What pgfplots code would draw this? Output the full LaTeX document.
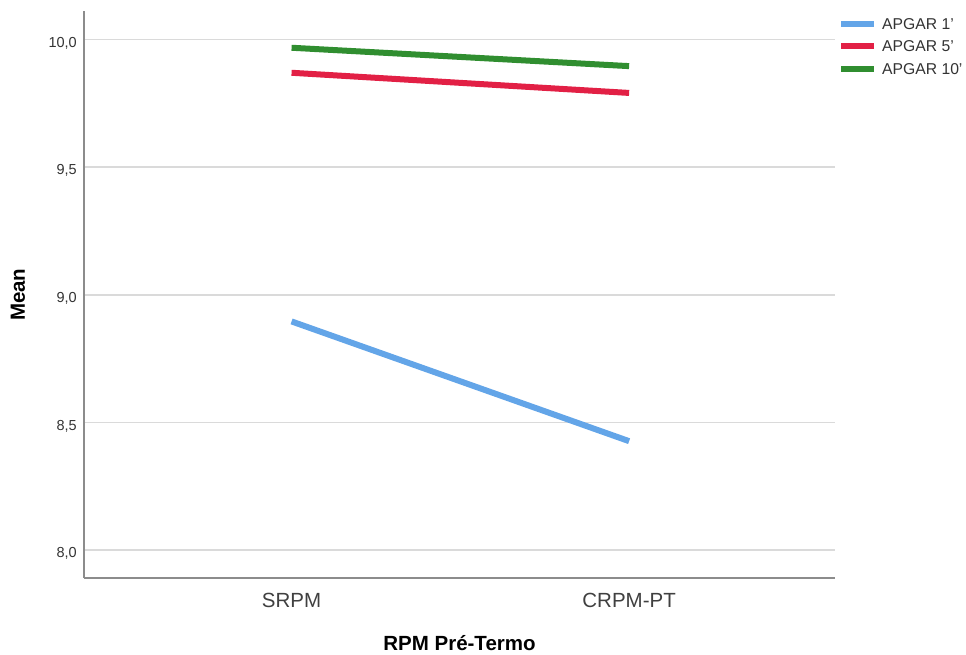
\documentclass[border=0pt]{standalone}
\usepackage{pgfplots}
\pgfplotsset{compat=1.18}
\usepackage{fontspec}
\setmainfont{Liberation Sans}
\definecolor{cblue}{RGB}{99,165,232}
\definecolor{cred}{RGB}{226,32,69}
\definecolor{cgreen}{RGB}{48,142,48}
\definecolor{axgray}{RGB}{140,140,140}
\definecolor{grgray}{RGB}{218,218,218}
\begin{document}
\begin{tikzpicture}
\useasboundingbox (-84pt,-76pt) rectangle (882pt,578pt);
\begin{axis}[
  at={(0pt,0pt)}, anchor=south west,
  scale only axis, width=751pt, height=566.5pt,
  xmin=-0.615, xmax=1.610,
  ymin=7.891, ymax=10.110,
  axis x line*=bottom, axis y line*=left,
  axis line style={draw=axgray, line width=2pt, -},
  xtick={0,1}, xticklabels={SRPM,CRPM-PT},
  ytick={8,8.5,9,9.5,10},
  major tick length=0pt,
  ymajorgrids, grid style={draw=grgray, line width=1.6pt},
  /pgf/number format/assume math mode=true,
  yticklabel style={/pgf/number format/.cd, use comma, fixed, fixed zerofill, precision=1, /tikz/.cd,
    font=\fontsize{14.5}{16}\selectfont, text=black!80, inner sep=0pt, anchor=base east, xshift=-7pt, yshift=-7.5pt},
  xticklabel style={font=\fontsize{20.5}{24}\selectfont, text=black!75, inner sep=0pt, anchor=base, yshift=-29pt},
  xlabel={\textbf{RPM Pré-Termo}},
  ylabel={\textbf{Mean}},
  xlabel style={at={(axis description cs:0.5,0)}, anchor=base, inner sep=0pt, yshift=-72pt, font=\fontsize{20.5}{24}\selectfont},
  ylabel style={at={(axis description cs:-0.0786,0.5)}, rotate=0, anchor=base, inner sep=0pt, font=\fontsize{20.5}{24}\selectfont},
  legend style={at={(axis description cs:1.004,0.989)}, anchor=north west, draw=none, fill=none,
    font=\fontsize{15.7}{18}\selectfont, text=black!80, inner sep=0pt, row sep=11pt,
    nodes={inner sep=0pt, text height=11.5pt, text depth=0pt},
    /tikz/every odd column/.append style={column sep=5pt}},
  legend cell align=left,
  legend image code/.code={\draw[#1, line width=6pt] (0pt,0pt) -- (33pt,0pt);},
  every axis plot/.append style={line width=6pt},
]
\addplot[cblue, line width=6pt] coordinates {(0,8.896) (1,8.427)};
\addlegendentry{APGAR 1'}
\addplot[cred, line width=6pt] coordinates {(0,9.870) (1,9.791)};
\addlegendentry{APGAR 5'}
\addplot[cgreen, line width=6pt] coordinates {(0,9.968) (1,9.896)};
\addlegendentry{APGAR 10'}
\end{axis}
\end{tikzpicture}
\end{document}
